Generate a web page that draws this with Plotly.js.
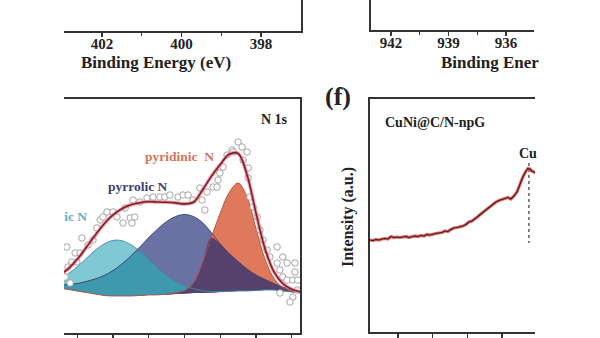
<!DOCTYPE html>
<html><head><meta charset="utf-8">
<script src="https://cdn.plot.ly/plotly-3.0.1.min.js"></script>
<style>html,body{margin:0;padding:0;background:#fff;}#chart{width:600px;height:338px;}</style>
</head><body><div id="chart"></div>
<script>
// ---------- N 1s panel (fitted components, a.u.) ----------
const n1sEnergy = [403.5, 403.25, 403.0, 402.75, 402.5, 402.25, 402.0, 401.75, 401.5, 401.25, 401.0, 400.75, 400.5, 400.25, 400.0, 399.75, 399.5, 399.25, 399.0, 398.75, 398.5, 398.25, 398.0, 397.75, 397.5, 397.25, 397.0, 396.75];
const n1sBackground = [5, 3.5, 2, 0.5, -1, -2.5, -3, -3, -3, -2.5, -2, -2, -1.5, -1, -0.5, 0, 0, 0.5, 1, 1.5, 2, 2, 2.5, 3, 3, 2, 1, 0];
const graphiticN = [9.5, 15.9, 24.2, 34.0, 43.7, 51.5, 55.6, 55.3, 51.3, 44.3, 35.7, 26.9, 18.9, 12.4, 7.6, 4.3, 2.3, 1.1, 0.5, 0.2, 0, 0, 0, 0, 0, 0, 0, 0];
const pyrrolicN = [3, 5, 7.5, 11, 15, 20, 25.5, 32, 40, 48.5, 57.5, 66, 73, 77.5, 79, 76.5, 70.5, 60, 48, 38, 29.5, 22, 15.5, 10.5, 6.5, 4, 2, 1];
const pyridinicN = [0, 0, 0, 0, 0, 0, 0, 0, 0, 0, 0, 0.1, 0.3, 1.2, 3, 10, 30, 55, 79, 99, 108, 94, 62, 31, 11.8, 3.4, 0.7, 0.1];
const n1sRawEnergy = [403.34, 403.29, 403.26, 403.20, 403.15, 403.06, 403.01, 402.92, 402.87, 402.70, 402.56, 402.45, 402.36, 402.28, 402.17, 402.00, 401.89, 401.72, 401.66, 401.52, 401.47, 401.44, 401.39, 401.25, 401.05, 400.88, 400.69, 400.55, 400.41, 400.18, 400.04, 399.90, 399.76, 399.57, 399.51, 399.43, 399.37, 399.20, 399.09, 399.06, 399.01, 398.92, 398.81, 398.67, 398.64, 398.50, 398.39, 398.25, 398.36, 398.22, 398.22, 398.17, 398.08, 397.97, 397.89, 397.80, 397.69, 397.61, 397.41, 397.41, 397.33, 397.25, 397.25, 397.13, 397.13, 396.97, 396.91, 396.91, 396.83, 396.85, 396.97, 397.05, 397.33];
const n1sRawIntensity = [16, 46, 26, 10, 31, 40, 31, 40, 55, 48, 53, 65, 73, 76, 81, 81, 76, 70, 85, 75, 70, 93, 76, 91, 95, 96, 96, 96, 98, 96, 98, 98, 93, 105, 93, 83, 101, 106, 106, 113, 120, 126, 138, 143, 141, 151, 146, 141, 133, 125, 115, 96, 86, 76, 63, 53, 43, 36, 46, 30, 23, 36, 16, 30, 13, 13, 30, 21, 13, 3, -4, -9, 0];

// ---------- (f) CuNi@C/N-npG spectrum ----------
const cuEnergy = [577.61, 577.44, 577.27, 577.10, 576.92, 576.75, 576.58, 576.40, 576.23, 576.06, 575.88, 575.71, 575.54, 575.37, 575.19, 575.02, 574.85, 574.67, 574.50, 574.33, 574.16, 573.98, 573.81, 573.64, 573.46, 573.29, 573.12, 572.95, 572.77, 572.60, 572.43, 572.25, 572.08, 571.91, 571.73, 571.56, 571.39, 571.22, 571.04, 570.87, 570.70, 570.52, 570.35, 570.18, 570.01, 569.83, 569.66, 569.49, 569.31, 569.14, 568.97, 568.80, 568.62, 568.51, 568.39, 568.28, 568.16, 568.05];
const cuIntensity = [92, 91.5, 92.5, 92, 93, 93.5, 93, 95.5, 94.5, 95, 94.5, 95, 95.5, 94.5, 95, 96, 95.5, 96.5, 96, 97.5, 97, 98, 98.5, 99, 99.5, 101, 100.5, 102.5, 104, 104.5, 105, 106, 107.5, 110, 111, 113, 115.5, 118, 120.5, 123.5, 126, 128, 130, 131.5, 132.5, 134, 134.5, 133, 136, 140, 148, 155, 161, 163.5, 163, 161, 160, 159];
const cuPeakEnergy = [568.45, 568.45];
const cuPeakSpan = [169, 89];

// ---------- tick values ----------
const topLeftTicks = [402, 400, 398];
const topLeftMinor = [401, 399];
const topRightTicks = [942, 939, 936];
const topRightMinor = [940.5, 937.5];
const n1sTicks = [402, 400, 398];
const n1sMinor = [403, 401, 399, 397];
const cuTicks = [576, 574, 572, 570];

// ---------- build ----------
const W = 600, H = 338;
const px = v => v / W, py = v => 1 - v / H;
const serif = 'Liberation Serif, Times New Roman, serif';
const frame = '#333';

const add = (a, b) => a.map((v, i) => v + b[i]);
const minOf = (a, b) => a.map((v, i) => Math.min(v, b[i]));
const cyanTop = add(n1sBackground, graphiticN);
const blueTop = add(n1sBackground, pyrrolicN);
const redTop = add(n1sBackground, pyridinicN);
const tealTop = add(n1sBackground, minOf(graphiticN, pyrrolicN));
const purpleTop = add(n1sBackground, minOf(pyrrolicN, pyridinicN));
const envelope = n1sBackground.map((v, i) => v + graphiticN[i] + pyrrolicN[i] + pyridinicN[i]);

const traces = [];
traces.push({x: [], y: [], xaxis: 'x', yaxis: 'y', type: 'scatter', hoverinfo: 'skip'});
traces.push({x: [], y: [], xaxis: 'x2', yaxis: 'y2', type: 'scatter', hoverinfo: 'skip'});

function band(top, color) {
  traces.push({x: n1sEnergy, y: n1sBackground, xaxis: 'x3', yaxis: 'y3', mode: 'lines',
    line: {width: 0, shape: 'spline'}, hoverinfo: 'skip'});
  traces.push({x: n1sEnergy, y: top, xaxis: 'x3', yaxis: 'y3', mode: 'lines', fill: 'tonexty',
    fillcolor: color, line: {width: 0, shape: 'spline'}, hoverinfo: 'skip'});
}
band(cyanTop, '#80c8d4');
band(blueTop, '#6a72a5');
band(redTop, '#e0785c');
band(tealTop, '#3e98ae');
band(purpleTop, '#56416d');
[cyanTop, blueTop, redTop].forEach((t, k) => traces.push({x: n1sEnergy, y: t, xaxis: 'x3', yaxis: 'y3', mode: 'lines',
  line: {width: 0.9, shape: 'spline', color: ['#3a8c9e', '#3a3f6c', '#b0503c'][k]}, hoverinfo: 'skip'}));
traces.push({x: n1sRawEnergy, y: n1sRawIntensity, xaxis: 'x3', yaxis: 'y3', mode: 'markers',
  marker: {symbol: 'circle', size: 6.5, color: '#ffffff', line: {color: '#9a9a9a', width: 0.9}}, hoverinfo: 'skip'});
traces.push({x: n1sEnergy, y: envelope, xaxis: 'x3', yaxis: 'y3', mode: 'lines',
  line: {width: 3.6, shape: 'spline', color: 'rgba(235,120,120,0.7)'}, hoverinfo: 'skip'});
traces.push({x: n1sEnergy, y: envelope, xaxis: 'x3', yaxis: 'y3', mode: 'lines',
  line: {width: 1.6, shape: 'spline', color: '#7e1d33'}, hoverinfo: 'skip'});
traces.push({x: [402.727], y: [75], xaxis: 'x3', yaxis: 'y3', mode: 'text', text: ['<b>graphitic N</b>'],
  textposition: 'middle left', cliponaxis: true,
  textfont: {family: serif, size: 13.5, color: '#5ab4c3'}, hoverinfo: 'skip'});

// (f)
traces.push({x: cuPeakEnergy, y: cuPeakSpan, xaxis: 'x4', yaxis: 'y4', mode: 'lines',
  line: {width: 1.3, dash: 'dot', color: '#444'}, hoverinfo: 'skip'});
traces.push({x: cuEnergy, y: cuIntensity, xaxis: 'x4', yaxis: 'y4', mode: 'lines',
  line: {width: 3.2, color: 'rgba(220,70,70,0.8)'}, hoverinfo: 'skip'});
traces.push({x: cuEnergy, y: cuIntensity, xaxis: 'x4', yaxis: 'y4', mode: 'lines',
  line: {width: 1.1, color: '#4a1717'}, hoverinfo: 'skip'});

const tickFont = {family: serif, size: 15, color: '#222', weight: 'bold'};
function xax(domain, range, anchor, vals, minorVals, labels, mirror) {
  const a = {domain: domain, range: range, anchor: anchor, showline: true, linecolor: frame, linewidth: 1.6,
    mirror: mirror, ticks: 'outside', ticklen: 4, tickwidth: 1.4, tickcolor: frame,
    tickmode: 'array', tickvals: vals, ticktext: vals.map(String), showticklabels: labels,
    ticklabelstandoff: -6,
    tickfont: tickFont, showgrid: false, zeroline: false, fixedrange: true};
  if (minorVals) a.minor = {tickmode: 'array', tickvals: minorVals, ticks: 'outside', ticklen: 3,
    tickwidth: 1.2, tickcolor: frame, showgrid: false};
  return a;
}
function yax(domain, range, anchor, side) {
  return {domain: domain, range: range, anchor: anchor, side: side, showline: true, linecolor: frame,
    linewidth: 1.6, ticks: '', showticklabels: false, showgrid: false, zeroline: false, fixedrange: true};
}
function note(text, x, y, size, color, xanchor, extra) {
  return Object.assign({text: '<b>' + text + '</b>', x: px(x), y: py(y), xref: 'paper', yref: 'paper',
    showarrow: false, xanchor: xanchor || 'center', yanchor: 'middle',
    font: {family: serif, size: size, color: color || '#222'}}, extra || {});
}

const layout = {
  width: W, height: H, margin: {l: 0, r: 0, t: 0, b: 0}, paper_bgcolor: '#fff', plot_bgcolor: 'rgba(0,0,0,0)',
  showlegend: false, hovermode: false,
  xaxis: xax([px(64), px(301)], [402.956, 396.994], 'y', topLeftTicks, topLeftMinor, true, false),
  yaxis: yax([py(31), 1], [0, 1], 'x', 'right'),
  xaxis2: xax([px(371), px(534)], [943.04, 934.54], 'y2', topRightTicks, topRightMinor, true, false),
  yaxis2: yax([py(30), 1], [0, 1], 'x2', 'left'),
  xaxis3: xax([px(64), px(300)], [403.371, 396.769], 'y3', n1sTicks, n1sMinor, false, true),
  yaxis3: yax([py(333), py(99)], [-40, 194], 'x3', 'right'),
  xaxis4: xax([px(370), px(535)], [577.61, 568.10], 'y4', cuTicks, null, false, true),
  yaxis4: yax([py(332), py(99)], [0, 233], 'x4', 'left'),
  annotations: [
    note('Binding Energy (eV)', 156, 63, 17),
    note('Binding Ener', 439, 63, 17, '#222', 'left'),
    note('(f)', 338, 96, 26),
    note('Intensity (a.u.)', 348, 217, 16, '#222', 'center', {textangle: -90}),
    note('CuNi@C/N-npG', 383, 122, 14, '#222', 'left'),
    note('Cu', 517, 153, 14, '#222', 'left'),
    note('N 1s', 274, 119, 14),
    note('pyridinic\u00a0 N', 179, 156, 13.5, '#d6735b'),
    note('pyrrolic N', 137.5, 186, 13.5, '#3c3f72')
  ]
};
Plotly.newPlot('chart', traces, layout, {staticPlot: true, displayModeBar: false});
</script></body></html>
